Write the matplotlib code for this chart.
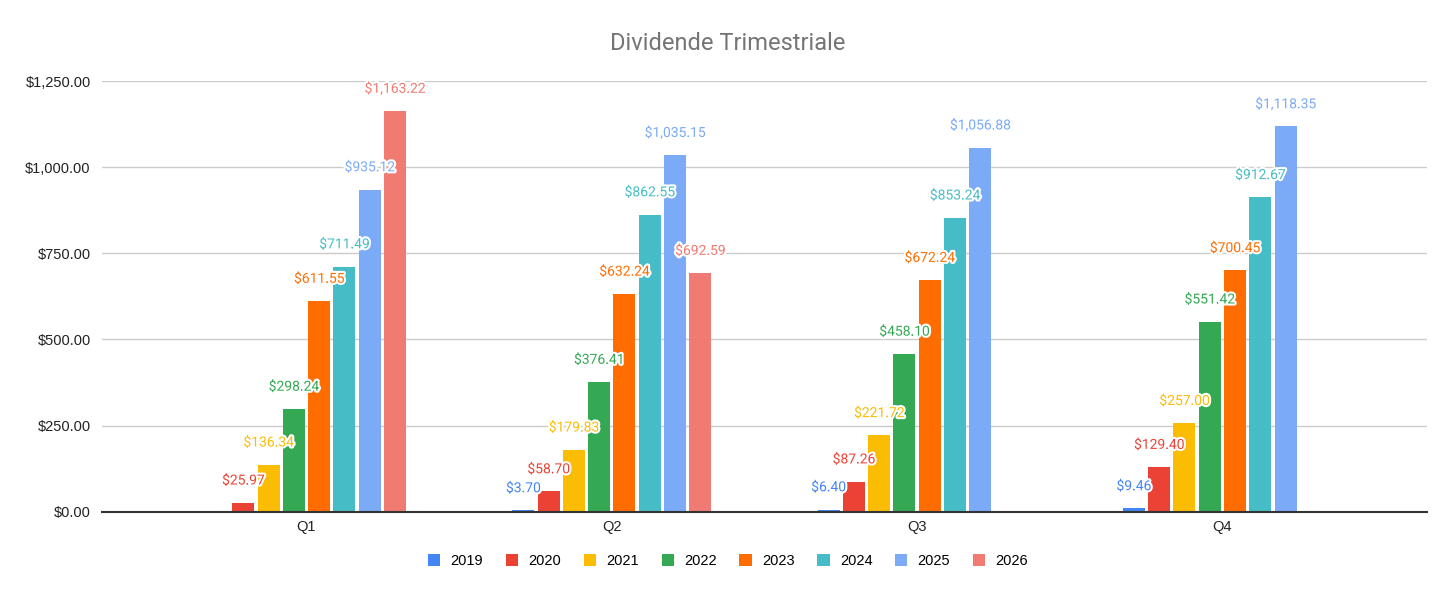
import matplotlib
matplotlib.use("Agg")
import matplotlib.pyplot as plt
import matplotlib.patheffects as pe
import numpy as np

categories = ["Q1", "Q2", "Q3", "Q4"]
years = ["2019", "2020", "2021", "2022", "2023", "2024", "2025", "2026"]
v2019 = [np.nan, 3.70, 6.40, 9.46]
v2020 = [25.97, 58.70, 87.26, 129.40]
v2021 = [136.34, 179.83, 221.72, 257.00]
v2022 = [298.24, 376.41, 458.10, 551.42]
v2023 = [611.55, 632.24, 672.24, 700.45]
v2024 = [711.49, 862.55, 853.24, 912.67]
v2025 = [935.12, 1035.15, 1056.88, 1118.35]
v2026 = [1163.22, 692.59, np.nan, np.nan]
series = [v2019, v2020, v2021, v2022, v2023, v2024, v2025, v2026]
colors = ["#4285F4", "#EA4335", "#FBBC04", "#34A853", "#FF6D01", "#46BDC6", "#7BAAF7", "#F07B72"]
yticks = [0, 250, 500, 750, 1000, 1250]

fig = plt.figure(figsize=(14.56, 5.98), dpi=100)
ax = fig.add_axes([0.070, 0.1443, 0.910, 0.7202])

x = np.arange(len(categories))
step = 0.0828
width = 0.072
n = len(series)
for i, (vals, col, yr) in enumerate(zip(series, colors, years)):
    pos = x + (i - (n - 1) / 2) * step
    ax.bar(pos, vals, width=width, color=col, label=yr, zorder=3)
    for px, v in zip(pos, vals):
        if np.isnan(v):
            continue
        ax.annotate(f"${v:,.2f}", (px, v), xytext=(0, 16), textcoords="offset points",
                    ha="center", va="center", fontsize=10, color=col, family="Roboto",
                    path_effects=[pe.withStroke(linewidth=3, foreground="white")], zorder=5)

ax.set_xlim(-0.67, 3.67)
ax.set_ylim(0, 1250)
ax.set_yticks(yticks)
ax.set_yticklabels([f"${t:,.2f}" for t in yticks], fontsize=10.5, family="Liberation Sans", color="#222222")
ax.set_xticks(x)
ax.set_xticklabels(categories, fontsize=10.5, family="Liberation Sans", color="#222222")
ax.tick_params(axis="both", length=0, pad=8)
ax.tick_params(axis="x", pad=6)
ax.grid(axis="y", color="#cccccc", linewidth=1, zorder=0)
for s in ["top", "right", "left"]:
    ax.spines[s].set_visible(False)
ax.spines["bottom"].set_color("#333333")
ax.spines["bottom"].set_linewidth(1.5)
ax.spines["bottom"].set_zorder(4)

fig.text(0.5, 0.928, "Dividende Trimestriale", ha="center", va="center", fontsize=17,
         color="#757575", family="Roboto")

leg = fig.legend(loc="center", bbox_to_anchor=(0.5, 0.062), ncol=8, frameon=False,
                 prop={"family": "Liberation Sans", "size": 10.5}, handlelength=0.85,
                 handleheight=0.85, handletextpad=0.7, columnspacing=1.55)

fig.savefig("out.png", dpi=100, facecolor="white")
